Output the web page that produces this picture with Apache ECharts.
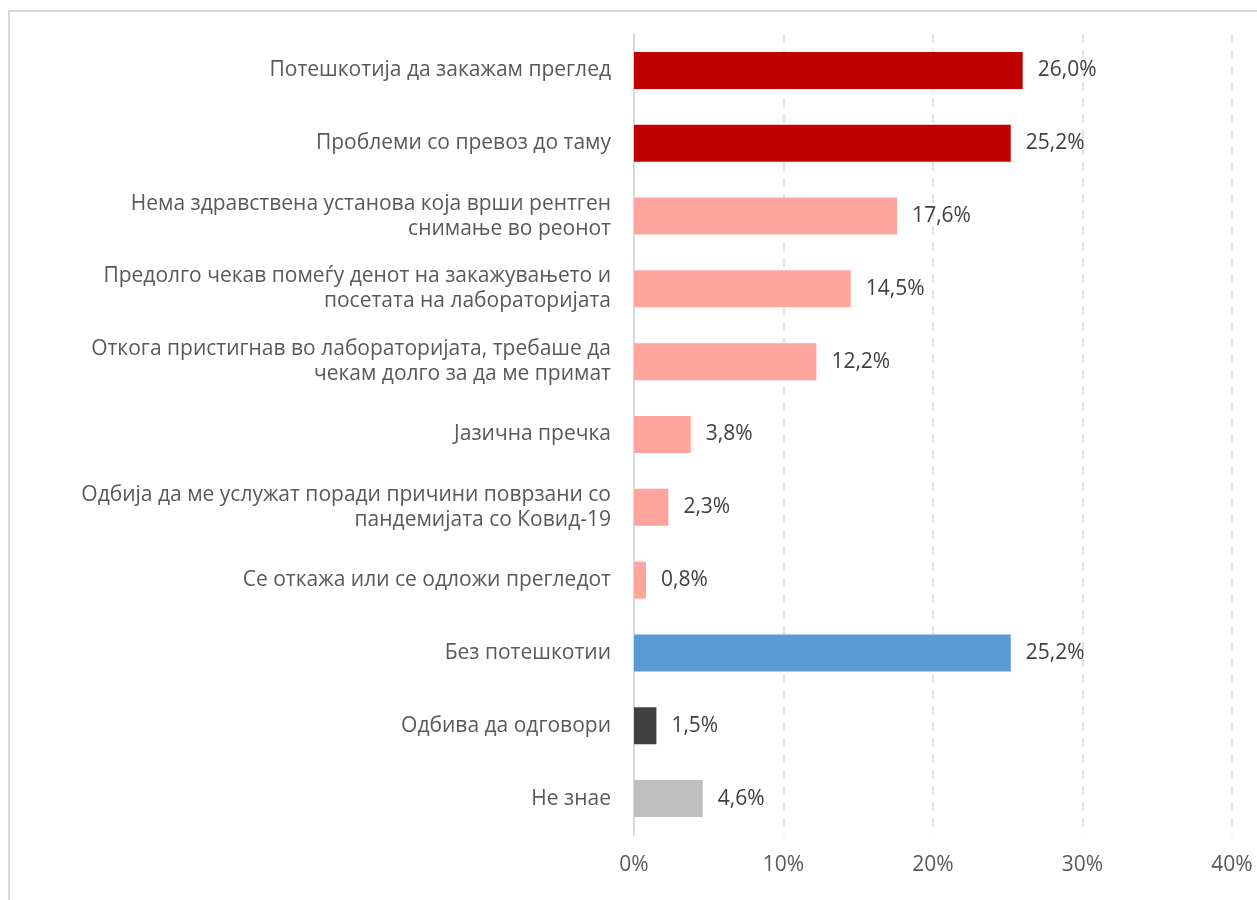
<!DOCTYPE html>
<html>
<head>
<meta charset="utf-8">
<script src="https://cdn.jsdelivr.net/npm/echarts@6/dist/echarts.min.js"></script>
<style>
html,body{margin:0;padding:0;background:#fff;}
#main{width:1257px;height:900px;}
</style>
</head>
<body>
<div id="main"></div>
<script>
// категории (одозгора надолу)
var categories = [
	'Потешкотија да закажам преглед',
	'Проблеми со превоз до таму',
	'Нема здравствена установа која врши рентген\nснимање во реонот',
	'Предолго чекав помеѓу денот на закажувањето и\nпосетата на лабораторијата',
	'Откога пристигнав во лабораторијата, требаше да\nчекам долго за да ме примат',
	'Јазична пречка',
	'Одбија да ме услужат поради причини поврзани со\nпандемијата со Ковид-19',
	'Се откажа или се одложи прегледот',
	'Без потешкотии',
	'Одбива да одговори',
	'Не знае'
];
var values = [26.0, 25.2, 17.6, 14.5, 12.2, 3.8, 2.3, 0.8, 25.2, 1.5, 4.6];
var barColors = ['#C00000', '#C00000', '#FFA59E', '#FFA59E', '#FFA59E', '#FFA59E', '#FFA59E', '#FFA59E', '#5B9BD5', '#404040', '#BFBFBF'];
var xTicks = [0, 10, 20, 30, 40];

var font = '"Open Sans", "Noto Sans", sans-serif';
var myChart = echarts.init(document.getElementById('main'));

var data = [];
for (var i = 0; i < values.length; i++) {
	data.push({ value: values[i], itemStyle: { color: barColors[i] } });
}

var option = {
	backgroundColor: '#fff',
	animation: false,
	graphic: [{
		type: 'rect',
		shape: { x: 9, y: 11, width: 1270, height: 920 },
		style: { fill: 'none', stroke: '#d9d9d9', lineWidth: 2 }
	}],
	grid: { left: 634, right: 25, top: 34, bottom: 65 },
	xAxis: {
		type: 'value',
		min: xTicks[0],
		max: xTicks[xTicks.length - 1],
		interval: 10,
		axisLine: { show: false },
		axisTick: { show: false },
		splitLine: { show: true, lineStyle: { color: '#d9d9d9', type: [9, 7], width: 1.5 } },
		axisLabel: {
			margin: 20,
			color: '#595959',
			fontSize: 21,
			fontFamily: font,
			formatter: function (v) { return v + '%'; }
		}
	},
	yAxis: {
		type: 'category',
		inverse: true,
		data: categories,
		axisLine: { show: true, lineStyle: { color: '#d9d9d9', width: 2 } },
		axisTick: { show: false },
		axisLabel: {
			margin: 23,
			color: '#595959',
			fontSize: 21,
			lineHeight: 25,
			fontFamily: font,
			align: 'right'
		}
	},
	series: [{
		type: 'bar',
		data: data,
		barWidth: 37,
		label: {
			show: true,
			position: 'right',
			distance: 15,
			color: '#404040',
			fontSize: 21,
			fontFamily: font,
			formatter: function (p) { return p.value.toFixed(1).replace('.', ',') + '%'; }
		}
	}]
};
myChart.setOption(option);
</script>
</body>
</html>
